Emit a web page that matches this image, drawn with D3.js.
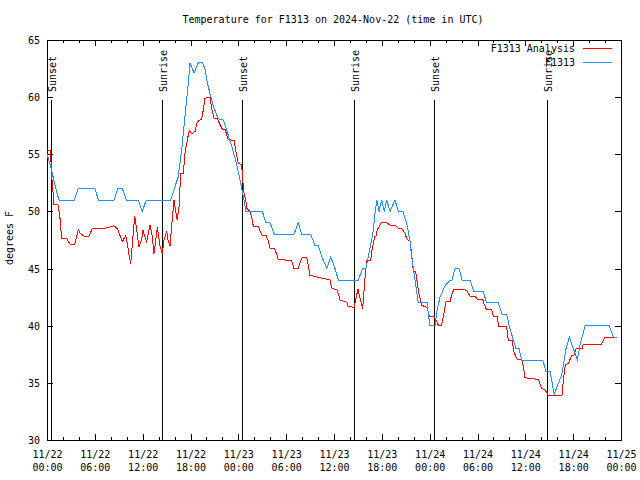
<!DOCTYPE html>
<html>
<head>
<meta charset="utf-8">
<script src="https://cdn.jsdelivr.net/npm/d3@7"></script>
<style>
  html, body { margin: 0; padding: 0; background: #fff; }
  svg { display: block; }
  text { font-family: "DejaVu Sans Mono", "Liberation Mono", monospace; font-size: 10px; fill: #000; }
</style>
</head>
<body>
<svg id="chart" width="640" height="480"></svg>
<script>
// ---- data ----
const chartTitle = "Temperature for F1313 on 2024-Nov-22 (time in UTC)";
const yLabel = "degrees F";
const seriesNames = ["F1313 Analysis", "F1313"];
const startTime = Date.UTC(2024, 10, 22, 0, 0);
const endTime = Date.UTC(2024, 10, 25, 0, 0);
const yTicks = [30, 35, 40, 45, 50, 55, 60, 65];

// [hours since 11/22 00:00 UTC, temperature F]
const analysisSeries = [
[0,55.3],[0.46,55.3],[0.54,53.5],[0.88,50.6],[1.38,50.6],[1.63,49.4],[1.84,47.6],[2.47,47.6],[2.89,47.15],[3.47,47.15],[3.93,48.4],[4.14,48.1],[4.64,47.85],[5.27,47.85],[5.68,48.5],[7.06,48.5],[7.78,48.6],[8.4,48.75],[8.82,48.5],[9.16,47.9],[9.45,47.35],[9.87,47.9],[10.07,47.2],[10.29,46.2],[10.5,45.4],[10.7,47.1],[11.0,49.6],[11.25,48.4],[11.54,46.9],[11.88,47.6],[12.04,48.4],[12.26,47.8],[12.51,47.35],[12.92,48.8],[13.21,47.8],[13.42,46.3],[13.84,48.6],[14.17,47.0],[14.46,46.3],[14.68,47.5],[15.02,48.3],[15.18,47.5],[15.43,47.0],[15.72,49.4],[15.93,51],[16.14,50],[16.34,49.25],[16.56,50.4],[16.77,53.3],[17.1,53.3],[17.31,55.1],[17.6,56.25],[17.85,57.1],[18.15,56.8],[18.57,57.0],[18.85,57.85],[19.41,58.1],[19.61,58.9],[19.82,59.9],[20.45,60],[20.66,59.0],[20.95,58.15],[21.36,58.1],[21.7,57.6],[21.99,57.2],[22.33,57.2],[22.54,56.7],[22.74,56.3],[23.46,56.2],[23.71,55.2],[24.0,54.2],[24.42,54.1],[24.55,52.75],[24.71,51.6],[24.92,51.1],[25.05,50.3],[25.46,50.0],[25.68,49.5],[25.88,48.7],[26.5,48.7],[26.72,48.3],[27.0,47.9],[27.47,47.9],[27.76,47.4],[27.97,46.8],[28.51,46.8],[28.81,46.25],[29.01,45.8],[30.69,45.7],[30.98,45.0],[31.52,45.0],[31.74,45.5],[32.02,46.0],[32.58,46.0],[32.78,45.2],[32.99,44.4],[33.62,44.3],[34.87,44.1],[35.5,44.0],[35.71,43.3],[36.42,43.1],[36.75,42.25],[37.59,42.05],[37.79,41.7],[38.54,41.6],[38.76,42.4],[39.0,43.2],[39.17,42.7],[39.39,42.1],[39.6,41.5],[39.68,42.25],[39.89,44.15],[40.1,45.7],[40.6,45.7],[40.73,46.5],[40.93,47.2],[41.14,47.85],[41.27,47.85],[41.43,48.4],[41.68,48.7],[41.9,49.0],[42.61,49.0],[43.03,48.8],[43.65,48.8],[44.07,48.5],[44.49,48.5],[44.91,48.1],[45.12,47.6],[45.53,47.4],[45.75,46.2],[45.95,44.8],[46.25,44.7],[46.45,43.7],[46.66,42.8],[47.0,41.8],[47.63,41.6],[47.83,41.2],[47.95,40.85],[48.54,40.85],[48.79,40.5],[49.08,40.06],[49.51,40.06],[49.71,40.8],[50.05,42.1],[50.55,42.1],[50.76,42.7],[51.05,43.2],[51.81,43.2],[52.65,43.1],[52.85,42.8],[53.06,42.6],[53.69,42.6],[53.98,42.3],[54.65,42.3],[54.82,41.9],[55.13,41.4],[55.78,41.4],[55.98,40.8],[56.45,40.8],[56.7,39.9],[57.66,39.9],[57.86,38.75],[58.33,38.75],[58.58,37.7],[58.96,37.06],[59.55,37.06],[59.75,36.4],[59.96,35.45],[61.63,35.3],[62.05,34.5],[62.47,34.4],[62.88,33.9],[64.6,33.9],[64.77,35.2],[65.02,36.6],[65.39,36.7],[65.82,37.4],[66.1,37.4],[66.36,38.0],[67.11,38.0],[67.27,38.4],[69.58,38.4],[70.0,39.0],[71.54,39.0]
];

const observedSeries = [
[0,55],[0.45,54],[1.0,52.3],[1.5,51],[3.45,51],[3.9,52],[6.0,52],[6.45,51],[8.4,51],[8.9,52],[9.45,52],[9.95,51],[11.45,51],[11.95,50],[12.45,51],[15.5,51],[16.45,53],[16.9,55.4],[17.3,58.3],[17.72,61.2],[17.94,63],[18.44,62.1],[18.98,63],[19.48,63],[19.82,62.5],[20.03,61.5],[20.45,60.3],[20.86,59.2],[21.49,58.1],[22.12,58],[22.54,57.1],[23.17,55.7],[23.8,54.1],[24.21,52.75],[24.55,51.6],[24.96,50],[27.01,50],[27.47,49],[27.97,49],[28.51,48],[30.98,48],[31.52,49],[31.95,48],[33.08,48],[33.62,47],[34.03,47],[34.5,46],[35.09,45],[35.59,46],[36.13,45],[36.54,44],[39.05,44],[39.6,45],[40.0,45],[40.43,46.5],[40.73,47.5],[40.93,48.4],[41.14,49.8],[41.36,51],[41.65,50],[41.98,51],[42.31,50],[42.61,51],[43.03,50],[43.65,51],[44.07,50],[44.62,50],[45.12,49],[45.53,47.4],[45.75,46],[46.16,44],[46.58,42],[47.7,42],[47.83,41],[48.04,40],[48.67,40],[48.96,41.5],[49.3,42.5],[49.93,43.5],[50.56,44],[50.8,44],[51.18,45],[51.68,45],[52.07,44],[53.07,44],[53.56,43],[54.73,43],[55.13,42],[56.61,42],[57.07,41],[57.66,41],[58.08,39.7],[58.62,38.5],[58.83,38],[59.21,38],[59.55,37],[62.18,37],[62.59,36],[63.1,36],[63.62,34],[64.56,35.7],[65.1,38],[65.52,39],[66.02,38],[66.52,37],[66.86,38.3],[67.49,40],[70.53,40],[71.04,39],[71.54,39]
];

const sunLabels = ["Sunset", "Sunrise", "Sunset", "Sunrise", "Sunset", "Sunrise"];
const sunHours = [0.55, 14.46, 24.5, 38.55, 48.58, 62.68];

// ---- drawing ----
const seriesColors = ["#ff0000", "#1e90ff"];
const margin = { left: 47, top: 40, right: 19, bottom: 40 };
const W = 640, H = 480;
const pw = W - margin.left - margin.right; // 574
const ph = H - margin.top - margin.bottom; // 400
const toDate = h => new Date(startTime + h * 3600000);

const svg = d3.select("#chart");
svg.append("rect").attr("width", W).attr("height", H).attr("fill", "#fff");

const x = d3.scaleUtc().domain([new Date(startTime), new Date(endTime)]).range([0, pw]);
const y = d3.scaleLinear().domain([30, 65]).range([ph, 0]);

const g = svg.append("g").attr("transform", `translate(${margin.left},${margin.top})`);

// title
svg.append("text").attr("x", 333).attr("y", 23).attr("text-anchor", "middle").text(chartTitle);

// y label
svg.append("text").attr("transform", "translate(13,238) rotate(-90)")
  .attr("text-anchor", "middle").text(yLabel);

// axes
const majorX = d3.utcHour.every(6).range(new Date(startTime), new Date(endTime + 1));
const minorX = d3.utcHour.every(2).range(new Date(startTime), new Date(endTime + 1));
const fmtDay = d3.utcFormat("%m/%d"), fmtTime = d3.utcFormat("%H:%M");

function styleAxis(sel) {
  sel.select(".domain").remove();
  sel.selectAll("line").attr("stroke", "#000").attr("shape-rendering", "crispEdges");
}

// bottom major with labels
const xb = g.append("g").attr("transform", `translate(0,${ph})`)
  .call(d3.axisBottom(x).tickValues(majorX).tickSizeInner(-6).tickSizeOuter(0).tickPadding(9).tickFormat(""))
  .call(styleAxis);
xb.selectAll(".tick").each(function(d) {
  const t = d3.select(this).append("text").attr("text-anchor", "middle").attr("y", 18);
  t.append("tspan").attr("x", 0).text(fmtDay(d));
  t.append("tspan").attr("x", 0).attr("dy", 13).text(fmtTime(d));
});
g.append("g").attr("transform", `translate(0,${ph})`)
  .call(d3.axisBottom(x).tickValues(minorX).tickSizeInner(-3).tickSizeOuter(0).tickFormat(""))
  .call(styleAxis);
// top mirrored
g.append("g").call(d3.axisTop(x).tickValues(majorX).tickSizeInner(-6).tickSizeOuter(0).tickFormat("")).call(styleAxis);
g.append("g").call(d3.axisTop(x).tickValues(minorX).tickSizeInner(-3).tickSizeOuter(0).tickFormat("")).call(styleAxis);

// left with labels
const yl = g.append("g")
  .call(d3.axisLeft(y).tickValues(yTicks).tickSizeInner(-6).tickSizeOuter(0).tickPadding(0).tickFormat(d3.format("d")))
  .call(styleAxis);
yl.selectAll("text").attr("x", -7).attr("dy", "0.35em").attr("font-size", "10px")
  .attr("font-family", '"DejaVu Sans Mono", monospace').attr("fill", "#000");
xb.selectAll("text").attr("font-size", "10px").attr("font-family", '"DejaVu Sans Mono", monospace').attr("fill", "#000");
// right mirrored
g.append("g").attr("transform", `translate(${pw},0)`)
  .call(d3.axisRight(y).tickValues(yTicks).tickSizeInner(-6).tickSizeOuter(0).tickFormat(""))
  .call(styleAxis);

// border
g.append("rect").attr("x", 0).attr("y", 0).attr("width", pw).attr("height", ph)
  .attr("fill", "none").attr("stroke", "#000").attr("shape-rendering", "crispEdges");

// sun lines
const sun = g.selectAll(".sun").data(sunHours.map((h, i) => ({ h, label: sunLabels[i] })))
  .enter().append("g").attr("class", "sun")
  .attr("transform", d => `translate(${Math.round(x(toDate(d.h)))},0)`);
sun.append("line").attr("x1", 0).attr("x2", 0).attr("y1", 60).attr("y2", ph)
  .attr("stroke", "#000").attr("shape-rendering", "crispEdges");
sun.append("text").attr("transform", "translate(5,52) rotate(-90)")
  .attr("text-anchor", "start").text(d => d.label);

// series lines
const line = d3.line().x(d => x(toDate(d[0]))).y(d => y(d[1]));
[analysisSeries, observedSeries].forEach((s, i) => {
  g.append("path").datum(s).attr("d", line).attr("fill", "none")
    .attr("stroke", seriesColors[i]).attr("stroke-width", 1).attr("shape-rendering", "crispEdges");
});

// legend
seriesNames.forEach((name, i) => {
  const ly = 48 + i * 14;
  svg.append("text").attr("x", 575).attr("y", ly).attr("dy", "0.35em").attr("text-anchor", "end").text(name);
  svg.append("line").attr("x1", 583).attr("x2", 612).attr("y1", ly).attr("y2", ly)
    .attr("stroke", seriesColors[i]).attr("shape-rendering", "crispEdges");
});
</script>
</body>
</html>
